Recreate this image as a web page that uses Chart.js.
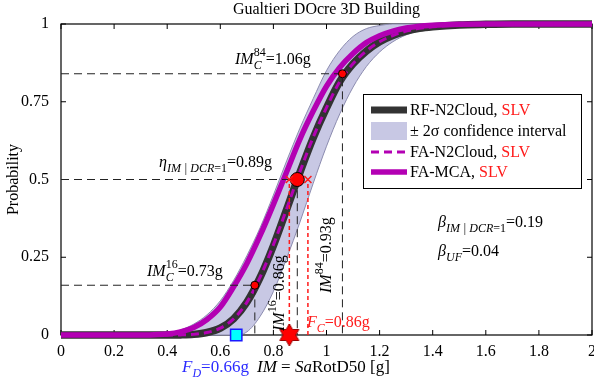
<!DOCTYPE html>
<html>
<head>
<meta charset="utf-8">
<script src="https://cdn.jsdelivr.net/npm/chart.js@4.4.1/dist/chart.umd.min.js"></script>
<style>
	html, body { margin: 0; padding: 0; background: #fff; }
	canvas { display: block; }
</style>
</head>
<body>
<canvas id="chart" width="594" height="383"></canvas>
<script>
/* IM grid (g) shared by every curve */
var imGrid = [0, 0.1, 0.2, 0.3, 0.35, 0.4, 0.45, 0.5, 0.55, 0.6, 0.65, 0.7, 0.75, 0.8, 0.85, 0.9, 0.95, 1.0,
	1.05, 1.1, 1.15, 1.2, 1.25, 1.3, 1.35, 1.4, 1.5, 1.6, 1.7, 1.8, 1.9, 2.0];

/* Probabilities */
var rfN2Cloud = [0, 0, 0, 0, 0, 0, 0.0003, 0.002, 0.008, 0.022, 0.052, 0.105, 0.185, 0.287, 0.404, 0.523, 0.634, 0.73,
	0.815, 0.872, 0.913, 0.943, 0.963, 0.977, 0.986, 0.991, 0.997, 0.999, 1, 1, 1, 1];
var faN2Cloud = [0, 0, 0, 0, 0, 0, 0.0003, 0.002, 0.008, 0.022, 0.052, 0.105, 0.186, 0.29, 0.406, 0.525, 0.636, 0.731,
	0.815, 0.872, 0.913, 0.943, 0.963, 0.977, 0.986, 0.991, 0.997, 0.999, 1, 1, 1, 1];
var faMCA = [0, 0, 0, 0, 0.001, 0.003, 0.01, 0.024, 0.05, 0.09, 0.155, 0.23, 0.32, 0.42, 0.525, 0.63, 0.72, 0.8,
	0.86, 0.905, 0.94, 0.962, 0.977, 0.987, 0.993, 0.996, 0.999, 1, 1, 1, 1, 1];
var bandUpper = [0, 0, 0, 0, 0.002, 0.006, 0.016, 0.035, 0.065, 0.11, 0.175, 0.255, 0.345, 0.45, 0.56, 0.665, 0.76, 0.85,
	0.915, 0.96, 0.985, 0.995, 1, 1, 1, 1, 1, 1, 1, 1, 1, 1];
var bandLower = [0, 0, 0, 0, 0, 0, 0, 0, 0, 0, 0, 0.01, 0.06, 0.14, 0.247, 0.363, 0.488, 0.607,
	0.711, 0.797, 0.863, 0.91, 0.943, 0.965, 0.979, 0.988, 0.996, 0.999, 1, 1, 1, 1];

/* Quantiles of the capacity (16th, median, 84th) */
var quantileIM = [0.73, 0.89, 1.06];
var quantileP = [0.16, 0.5, 0.84];
/* IM^16 and IM^84 of the fragility at DCR = 1 */
var fragilityIM = [0.86, 0.93];
var capacityIM = [0.86];	// F_C
var demandIM = [0.66];		// F_D

var xTicks = [0, 0.2, 0.4, 0.6, 0.8, 1, 1.2, 1.4, 1.6, 1.8, 2];
var yTicks = [0, 0.25, 0.5, 0.75, 1];

var SERIF = '"Liberation Serif", "Times New Roman", serif';
var MAGENTA = '#b300b3';
var RED = '#ff1a1a';

function curve(values) {
	return imGrid.map(function (x, i) { return {x: x, y: values[i]}; });
}

/* Filled hexagram used as the F_C marker */
function hexagram(r) {
	var s = Math.ceil(r * 2 + 4);
	var c = document.createElement('canvas');
	c.width = s;
	c.height = s;
	var g = c.getContext('2d');
	g.translate(s / 2, s / 2);
	g.beginPath();
	for (var k = 0; k < 12; k++) {
		var rad = k % 2 ? r * 0.58 : r;
		var ang = -Math.PI / 2 + k * Math.PI / 6;
		g[k ? 'lineTo' : 'moveTo'](rad * Math.cos(ang), rad * Math.sin(ang));
	}
	g.closePath();
	g.fillStyle = '#ff0000';
	g.fill();
	g.strokeStyle = '#900';
	g.lineWidth = 1;
	g.stroke();
	return c;
}

/* Draw a run of text pieces: {t, it, sub, sup, stack:[sup, sub], c} */
function rich(ctx, x, y, parts, color, size) {
	var cx = x;
	var big = size || 16;
	ctx.textBaseline = 'alphabetic';
	ctx.textAlign = 'left';
	parts.forEach(function (p) {
		ctx.fillStyle = p.c || color;
		if (p.stack) {
			ctx.font = '12px ' + SERIF;
			var w1 = ctx.measureText(p.stack[0]).width;
			ctx.fillText(p.stack[0], cx, y - 8);
			ctx.font = 'italic 12px ' + SERIF;
			var w2 = ctx.measureText(p.stack[1]).width;
			ctx.fillText(p.stack[1], cx, y + 5);
			cx += Math.max(w1, w2);
			return;
		}
		var small = p.sub || p.sup;
		ctx.font = (p.it ? 'italic ' : '') + (small ? '12px ' : big + 'px ') + SERIF;
		var dy = p.sub ? 5 : (p.sup ? -8 : 0);
		ctx.fillText(p.t, cx, y + dy);
		cx += ctx.measureText(p.t).width;
	});
	return cx - x;
}

var datasets = [];

datasets.push({
	data: curve(bandUpper), borderColor: '#8c8cb0', borderWidth: 1, pointRadius: 0,
	fill: false, cubicInterpolationMode: 'monotone', order: 10, clip: 8
});
datasets.push({
	data: curve(bandLower), borderColor: '#8c8cb0', borderWidth: 1, pointRadius: 0,
	backgroundColor: '#c8c8e4', fill: '-1', cubicInterpolationMode: 'monotone', order: 9, clip: 8
});
datasets.push({
	data: curve(rfN2Cloud), borderColor: '#333333', borderWidth: 7.5, pointRadius: 0,
	fill: false, cubicInterpolationMode: 'monotone', order: 6, clip: 8
});
datasets.push({
	data: curve(faMCA), borderColor: MAGENTA, borderWidth: 5.5, pointRadius: 0,
	fill: false, cubicInterpolationMode: 'monotone', order: 5, clip: 8
});
datasets.push({
	data: curve(faN2Cloud), borderColor: MAGENTA, borderWidth: 3, borderDash: [8, 5], pointRadius: 0,
	fill: false, cubicInterpolationMode: 'monotone', order: 4, clip: 8
});

quantileIM.forEach(function (im, i) {
	datasets.push({
		data: [{x: 0, y: quantileP[i]}, {x: im, y: quantileP[i]}, {x: im, y: 0}],
		borderColor: '#222', borderWidth: 1, borderDash: [8, 5], pointRadius: 0, fill: false, order: 3
	});
});
fragilityIM.forEach(function (im) {
	datasets.push({
		data: [{x: im, y: 0}, {x: im, y: quantileP[1]}],
		borderColor: RED, borderWidth: 1.5, borderDash: [4, 3], pointRadius: 0, fill: false, order: 2
	});
});

/* markers */
datasets.push({
	data: [{x: quantileIM[0], y: quantileP[0]}, {x: quantileIM[2], y: quantileP[2]}],
	showLine: false, pointRadius: 4, pointBackgroundColor: '#ff0000', pointBorderColor: '#000',
	pointBorderWidth: 1, order: 1, clip: false
});
datasets.push({
	data: [{x: quantileIM[1], y: quantileP[1]}],
	showLine: false, pointRadius: 7, pointBackgroundColor: '#ff0000', pointBorderColor: '#000',
	pointBorderWidth: 1, order: 1, clip: false
});
datasets.push({
	data: fragilityIM.map(function (im) { return {x: im, y: quantileP[1]}; }),
	showLine: false, pointStyle: 'crossRot', pointRadius: 5, pointBorderColor: RED,
	pointBorderWidth: 1.5, order: 0, clip: false
});
datasets.push({
	data: capacityIM.map(function (im) { return {x: im, y: 0}; }),
	showLine: false, pointStyle: hexagram(11), pointRadius: 11, order: 0, clip: false
});
datasets.push({
	data: demandIM.map(function (im) { return {x: im, y: 0}; }),
	showLine: false, pointStyle: 'rect', pointRadius: 8, pointBackgroundColor: '#00ffff',
	pointBorderColor: '#1a1aff', pointBorderWidth: 1.5, order: 0, clip: false
});

/* Box, inward ticks, title, annotations and legend */
var decor = {
	id: 'decor',
	beforeDraw: function (chart) {
		var ctx = chart.ctx;
		var a = chart.chartArea;
		ctx.save();
		ctx.fillStyle = '#fff';
		ctx.fillRect(0, 0, chart.width, chart.height);
		ctx.strokeStyle = '#000';
		ctx.lineWidth = 1.2;
		ctx.strokeRect(a.left, a.top, a.right - a.left, a.bottom - a.top);
		ctx.lineWidth = 1;
		ctx.beginPath();
		xTicks.forEach(function (v) {
			var px = chart.scales.x.getPixelForValue(v);
			ctx.moveTo(px, a.bottom); ctx.lineTo(px, a.bottom - 5);
			ctx.moveTo(px, a.top); ctx.lineTo(px, a.top + 5);
		});
		yTicks.forEach(function (v) {
			var py = chart.scales.y.getPixelForValue(v);
			ctx.moveTo(a.left, py); ctx.lineTo(a.left + 5, py);
			ctx.moveTo(a.right, py); ctx.lineTo(a.right - 5, py);
		});
		ctx.stroke();
		ctx.restore();
	},
	afterDraw: function (chart) {
		var ctx = chart.ctx;
		var a = chart.chartArea;
		ctx.save();

		ctx.fillStyle = '#000';
		ctx.font = '16px ' + SERIF;
		ctx.textAlign = 'center';
		ctx.textBaseline = 'alphabetic';
		ctx.fillText('Gualtieri DOcre 3D Building', (a.left + a.right) / 2, 14);

		rich(ctx, 235, 64, [{t: 'IM', it: true}, {stack: ['84', 'C']}, {t: '=1.06g'}], '#000');
		rich(ctx, 159, 167, [{t: 'η', it: true}, {t: 'IM | DCR', it: true, sub: true}, {t: '=1', sub: true},
			{t: '=0.89g'}], '#000');
		rich(ctx, 147, 276, [{t: 'IM', it: true}, {stack: ['16', 'C']}, {t: '=0.73g'}], '#000');

		ctx.save();
		ctx.translate(284, 331);
		ctx.rotate(-Math.PI / 2);
		rich(ctx, 0, 0, [{t: 'IM', it: true}, {t: '16', sup: true}, {t: '=0.86g'}], '#000');
		ctx.restore();
		ctx.save();
		ctx.translate(331, 293);
		ctx.rotate(-Math.PI / 2);
		rich(ctx, 0, 0, [{t: 'IM', it: true}, {t: '84', sup: true}, {t: '=0.93g'}], '#000');
		ctx.restore();

		rich(ctx, 307, 327, [{t: 'F', it: true}, {t: 'C', it: true, sub: true}, {t: '=0.86g'}], RED);
		rich(ctx, 438, 227, [{t: 'β', it: true}, {t: 'IM | DCR', it: true, sub: true}, {t: '=1', sub: true},
			{t: '=0.19'}], '#000');
		rich(ctx, 438, 256, [{t: 'β', it: true}, {t: 'UF', it: true, sub: true}, {t: '=0.04'}], '#000');

		rich(ctx, 182, 372, [{t: 'F', it: true}, {t: 'D', it: true, sub: true}, {t: '=0.66g'}], '#2b2bff', 17);
		rich(ctx, 257, 372, [{t: 'IM', it: true}, {t: ' = '}, {t: 'Sa', it: true}, {t: 'RotD50 [g]'}], '#000', 17);

		/* legend */
		var lx = 363, ly = 94, lw = 218, lh = 94;
		ctx.fillStyle = '#fff';
		ctx.fillRect(lx, ly, lw, lh);
		ctx.strokeStyle = '#000';
		ctx.lineWidth = 1;
		ctx.strokeRect(lx + 0.5, ly + 0.5, lw, lh);

		var rows = [110, 131, 152, 172];
		ctx.lineCap = 'butt';
		ctx.strokeStyle = '#333333';
		ctx.lineWidth = 7;
		ctx.beginPath(); ctx.moveTo(371, rows[0]); ctx.lineTo(407, rows[0]); ctx.stroke();
		ctx.fillStyle = '#c8c8e4';
		ctx.fillRect(371, rows[1] - 9, 36, 18);
		ctx.strokeStyle = MAGENTA;
		ctx.lineWidth = 3;
		ctx.setLineDash([8, 5]);
		ctx.beginPath(); ctx.moveTo(371, rows[2]); ctx.lineTo(407, rows[2]); ctx.stroke();
		ctx.setLineDash([]);
		ctx.lineWidth = 5.5;
		ctx.beginPath(); ctx.moveTo(371, rows[3]); ctx.lineTo(407, rows[3]); ctx.stroke();

		rich(ctx, 410, rows[0] + 5, [{t: 'RF-N2Cloud, '}, {t: 'SLV', c: RED}], '#000');
		rich(ctx, 410, rows[1] + 5, [{t: '± 2σ confidence interval'}], '#000');
		rich(ctx, 410, rows[2] + 5, [{t: 'FA-N2Cloud, '}, {t: 'SLV', c: RED}], '#000');
		rich(ctx, 410, rows[3] + 5, [{t: 'FA-MCA, '}, {t: 'SLV', c: RED}], '#000');

		ctx.restore();
	}
};

new Chart(document.getElementById('chart'), {
	type: 'line',
	data: {datasets: datasets},
	options: {
		responsive: false,
		devicePixelRatio: 1,
		animation: false,
		events: [],
		layout: {autoPadding: false, padding: {top: 24, right: 2, left: 0, bottom: 0}},
		plugins: {
			legend: {display: false},
			tooltip: {enabled: false},
			filler: {drawTime: 'beforeDatasetsDraw'}
		},
		scales: {
			x: {
				type: 'linear', min: 0, max: 2,
				grid: {display: false}, border: {display: false},
				afterBuildTicks: function (s) { s.ticks = xTicks.map(function (v) { return {value: v}; }); },
				ticks: {
					color: '#000', padding: -1, maxRotation: 0, autoSkip: false,
					font: {family: SERIF, size: 16},
					callback: function (v) { return String(+v.toFixed(1)); }
				},
				afterFit: function (s) { s.height = 48; s.paddingLeft = 0; s.paddingRight = 0; }
			},
			y: {
				type: 'linear', min: 0, max: 1,
				grid: {display: false}, border: {display: false},
				afterBuildTicks: function (s) { s.ticks = yTicks.map(function (v) { return {value: v}; }); },
				ticks: {
					color: '#000', padding: 4, autoSkip: false,
					font: {family: SERIF, size: 16},
					callback: function (v) { return String(v); }
				},
				title: {display: true, text: 'Probability', color: '#000', font: {family: SERIF, size: 16}},
				afterFit: function (s) { s.width = 61; s.paddingTop = 0; s.paddingBottom = 0; }
			}
		}
	},
	plugins: [decor]
});
</script>
</body>
</html>
